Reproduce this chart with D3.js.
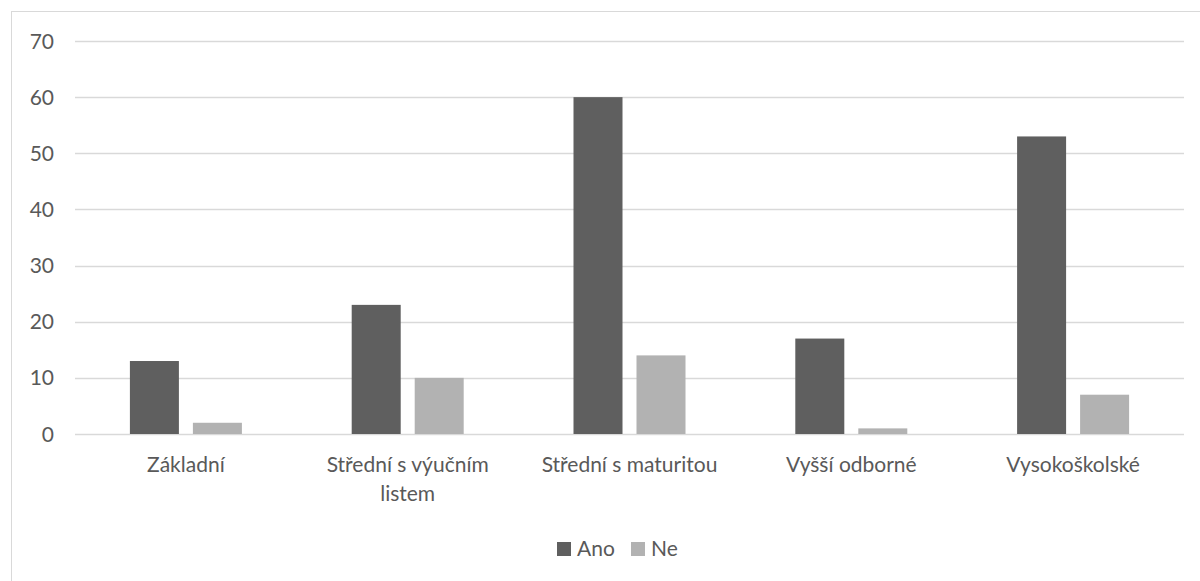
<!DOCTYPE html>
<html><head><meta charset="utf-8">
<script src="https://cdn.jsdelivr.net/npm/d3@7"></script>
<style>body{margin:0;background:#fff;}svg{display:block;}</style>
</head><body>
<svg id="c" width="1200" height="581"></svg>
<script>
const categories = ["Základní", "Střední s výučním listem", "Střední s maturitou", "Vyšší odborné", "Vysokoškolské"];
const categoryLines = [["Základní"], ["Střední s výučním", "listem"], ["Střední s maturitou"], ["Vyšší odborné"], ["Vysokoškolské"]];
const seriesNames = ["Ano", "Ne"];
const ano = [13, 23, 60, 17, 53];
const ne = [2, 10, 14, 1, 7];
const yTicks = [0, 10, 20, 30, 40, 50, 60, 70];

(function () {
const colors = {Ano: "#5f5f5f", Ne: "#b2b2b2"};
const font = "Lato, 'Open Sans', sans-serif";
const fs = 21;
const svg = d3.select("#c");

svg.append("rect").attr("x", 11.5).attr("y", 11.5).attr("width", 1200).attr("height", 600)
  .attr("fill", "none").attr("stroke", "#d9d9d9");

const pL = 75, pR = 1184, pT = 41, pB = 434;
const x = d3.scaleBand().domain(categories).range([pL, pR]);
const y = d3.scaleLinear().domain([0, 70]).range([pB, pT]);
const barW = 49, gap = 14;
const xs = d3.scaleOrdinal().domain(seriesNames).range([-(gap/2 + barW), gap/2]);

svg.append("g").selectAll("line").data(yTicks).join("line")
  .attr("x1", pL).attr("x2", pR)
  .attr("y1", d => Math.round(y(d)) + 0.5).attr("y2", d => Math.round(y(d)) + 0.5)
  .attr("stroke", "#d9d9d9").attr("stroke-width", 1.5);

svg.append("g").selectAll("text").data(yTicks).join("text")
  .attr("x", 54).attr("y", d => y(d) + 7.5)
  .attr("text-anchor", "end").attr("font-family", font).attr("font-size", fs)
  .attr("fill", "#595959").text(d => d);

const data = [];
categories.forEach((c, i) => {
  data.push({c, s: "Ano", v: ano[i]});
  data.push({c, s: "Ne", v: ne[i]});
});

svg.append("g").selectAll("rect").data(data).join("rect")
  .attr("x", d => x(d.c) + x.bandwidth()/2 + xs(d.s))
  .attr("width", barW)
  .attr("y", d => y(d.v))
  .attr("height", d => y(0) - y(d.v))
  .attr("fill", d => colors[d.s]);

const cl = svg.append("g").selectAll("text").data(categories).join("text")
  .attr("text-anchor", "middle").attr("font-family", font).attr("font-size", fs)
  .attr("fill", "#595959");
cl.each(function(d, i) {
  const t = d3.select(this);
  categoryLines[i].forEach((ln, j) => {
    t.append("tspan").attr("x", x(d) + x.bandwidth()/2).attr("y", 472 + j * 29).text(ln);
  });
});

const lg = svg.append("g");
const legendX = [557, 631];
seriesNames.forEach((s, i) => {
  lg.append("rect").attr("x", legendX[i]).attr("y", 542).attr("width", 14).attr("height", 14).attr("fill", colors[s]);
  lg.append("text").attr("x", legendX[i] + 20).attr("y", 556).attr("font-family", font).attr("font-size", fs)
    .attr("fill", "#595959").text(s);
});
})();
</script>
</body></html>
